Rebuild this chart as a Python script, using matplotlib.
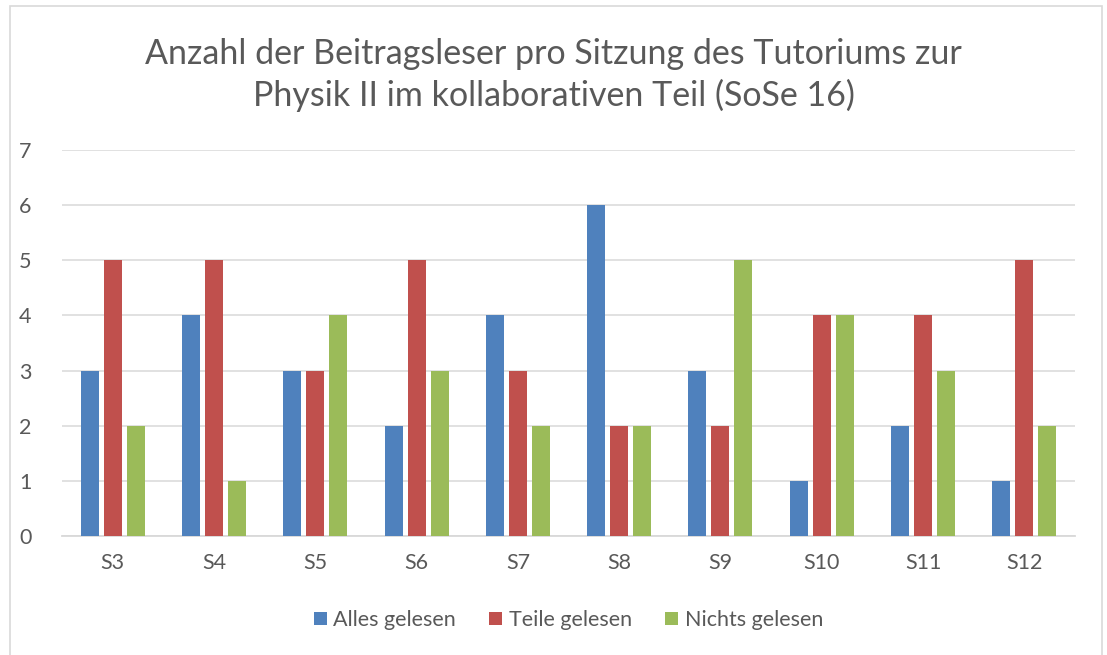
import matplotlib
matplotlib.use("Agg")
import matplotlib.pyplot as plt
import numpy as np
from matplotlib.patches import Rectangle

categories = ["S3", "S4", "S5", "S6", "S7", "S8", "S9", "S10", "S11", "S12"]
alles = [3, 4, 3, 2, 4, 6, 3, 1, 2, 1]
teile = [5, 5, 3, 5, 3, 2, 2, 4, 4, 5]
nichts = [2, 1, 4, 3, 2, 2, 5, 4, 3, 2]
series_names = ["Alles gelesen", "Teile gelesen", "Nichts gelesen"]
colors = ["#4F81BD", "#C0504D", "#9BBB59"]
title = "Anzahl der Beitragsleser pro Sitzung des Tutoriums zur\nPhysik II im kollaborativen Teil (SoSe 16)"

plt.rcParams['font.family'] = ['Lato', 'DejaVu Sans']
txt = "#595959"

fig = plt.figure(figsize=(11.07, 6.55), dpi=100)
fig.patches.append(Rectangle((10/1107, -0.05), (1102-10)/1107, 1.05 - 6/655, transform=fig.transFigure,
                             fill=False, edgecolor="#D9D9D9", linewidth=1.2, clip_on=False))
ax = fig.add_axes([62/1107, 1-536/655, (1075-62)/1107, (536-150)/655])

x = np.arange(len(categories))
w = 0.178
off = 0.227
for i, (vals, name, c) in enumerate(zip([alles, teile, nichts], series_names, colors)):
    ax.bar(x + (i-1)*off, vals, width=w, color=c, label=name, zorder=3)

ax.set_xlim(-0.5, len(categories)-0.5)
ax.set_ylim(0, 7)
ax.set_yticks(range(0, 8))
ax.set_xticks(x)
ax.set_xticklabels(categories)
ax.grid(axis='y', color="#D9D9D9", linewidth=1.1, zorder=0)
for s in ["top", "right", "left"]:
    ax.spines[s].set_visible(False)
ax.spines["bottom"].set_color("#D9D9D9")
ax.spines["bottom"].set_linewidth(1.3)
ax.tick_params(axis='both', length=0, labelsize=15.5, colors=txt)
ax.tick_params(axis='y', pad=22)
ax.tick_params(axis='x', pad=12)

fig.text(0.5, 1-75/655, title, ha='center', va='center', fontsize=24.5, color=txt, linespacing=1.3)

ax.legend(loc='center', bbox_to_anchor=(0.5, (536-620)/386), ncol=3, frameon=False,
          fontsize=15.5, labelcolor=txt, handlelength=0.6, handleheight=0.6,
          handletextpad=0.3, columnspacing=1.55)

fig.savefig("out.png", dpi=100)
